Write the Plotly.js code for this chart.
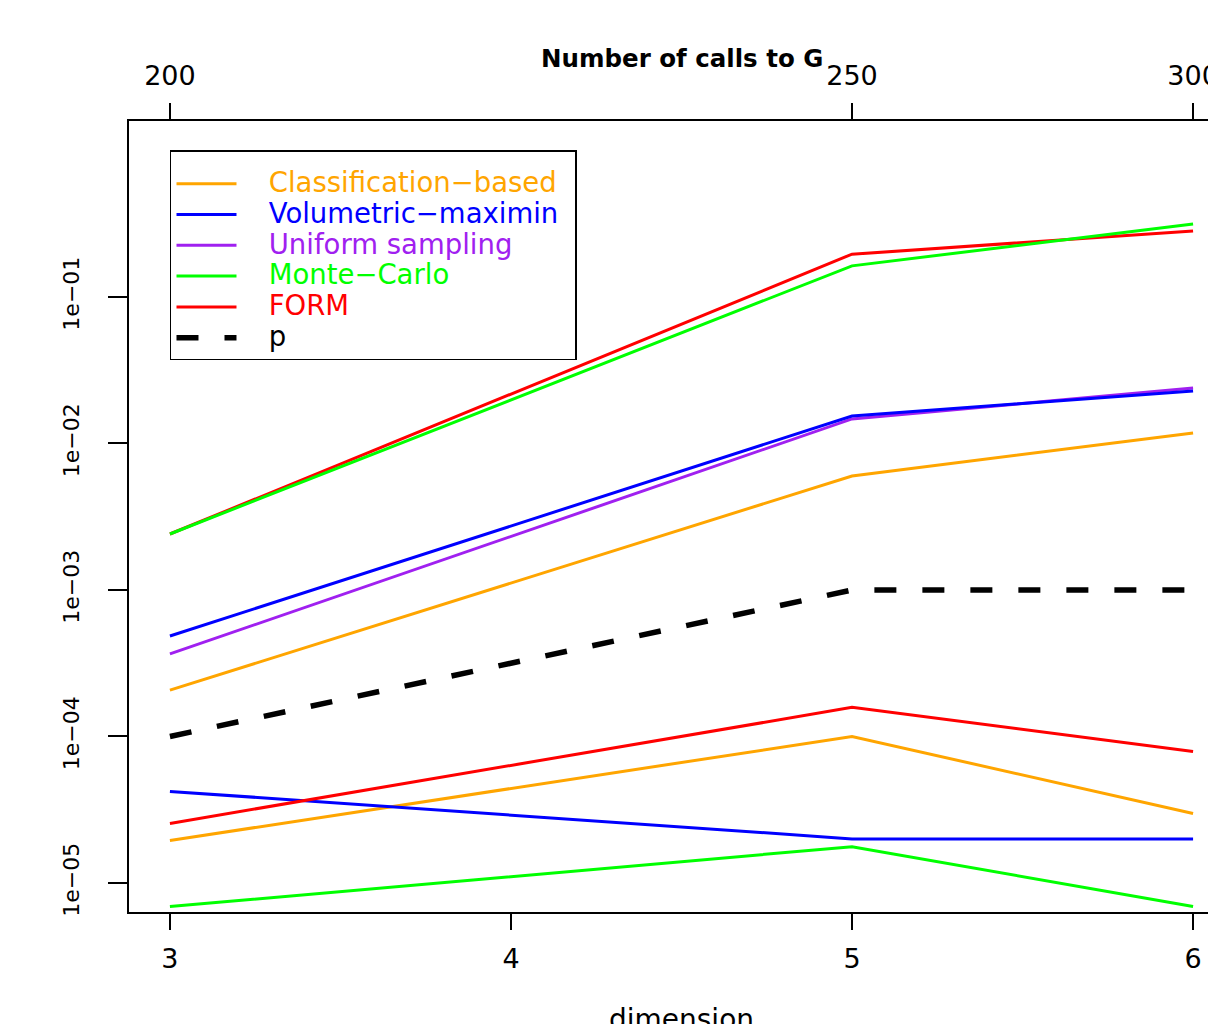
<!DOCTYPE html>
<html><head><meta charset="utf-8">
<script src="https://cdn.plot.ly/plotly-3.0.1.min.js"></script>
<style>html,body{margin:0;padding:0;overflow:hidden;background:#fff}#chart{width:1240px;height:1100px}</style>
</head><body><div id="chart"></div><script>
// ---- data ----
const dimensions = [3, 5, 6];
const callsToG = ['200', '250', '300'];
const dimensionTicks = [3, 4, 5, 6];
const yTickVals = [1e-5, 1e-4, 1e-3, 1e-2, 1e-1];
const yTickText = ['1e\u221205', '1e\u221204', '1e\u221203', '1e\u221202', '1e\u221201'];
const seriesNames = ['Classification\u2212based', 'Volumetric\u2212maximin', 'Uniform sampling', 'Monte\u2212Carlo', 'FORM', 'p'];

const classificationUpper = [2.07e-4, 6.0e-3, 1.18e-2];
const classificationLower = [1.95e-5, 1.0e-4, 2.98e-5];
const volumetricUpper = [4.85e-4, 1.54e-2, 2.28e-2];
const volumetricLower = [4.22e-5, 2.0e-5, 2.0e-5];
const uniformUpper = [3.66e-4, 1.47e-2, 2.39e-2];
const monteCarloUpper = [2.41e-3, 0.163, 0.315];
const monteCarloLower = [6.9e-6, 1.77e-5, 6.9e-6];
const formUpper = [2.41e-3, 0.196, 0.282];
const formLower = [2.55e-5, 1.58e-4, 7.9e-5];
const pValues = [1e-4, 1e-3, 1e-3];

// ---- styles ----
const colors = ['#FFA500', '#0000FF', '#A020F0', '#00FF00', '#FF0000', '#000000'];
const FONT = 'DejaVu Sans';
const NB = '\u00A0\u00A0\u00A0\u00A0';

function legendName(i) {
  return NB + '<span style="color:' + colors[i] + ';font-size:27.5px">' + seriesNames[i] + '</span>' + (i === 0 ? '\u00A0\u00A0' : '');
}
function tr(y, i, showlegend, extra) {
  return Object.assign({
    x: dimensions, y: y, type: 'scatter', mode: 'lines',
    name: legendName(i), legendgroup: 'g' + i, legendrank: i + 1,
    showlegend: showlegend,
    line: { color: colors[i], width: 3 },
    hoverinfo: 'skip'
  }, extra || {});
}

const traces = [
  tr(classificationUpper, 0, true),
  tr(classificationLower, 0, false),
  tr(uniformUpper, 2, true),
  tr(volumetricUpper, 1, true),
  tr(volumetricLower, 1, false),
  tr(formUpper, 4, true),
  tr(formLower, 4, false),
  tr(monteCarloUpper, 3, true),
  tr(monteCarloLower, 3, false),
  tr(pValues, 5, true, { xaxis: 'x2', line: { color: '#000', width: 5.5, dash: '22px,26px' } })
];

const xRange = [2.88, 6.12];
const layout = {
  width: 1240, height: 1100,
  margin: { l: 129, r: 6, t: 121, b: 188 },
  paper_bgcolor: '#fff', plot_bgcolor: '#fff',
  font: { family: FONT, color: '#000' },
  showlegend: true,
  legend: {
    x: 0.0371, y: 0.9633, xanchor: 'left', yanchor: 'top',
    bgcolor: '#fff', bordercolor: '#000', borderwidth: 1.5,
    font: { family: FONT, size: 21.4, color: '#000' },
    title: { text: '\u00A0', font: { family: FONT, size: 9 } },
    itemwidth: 60, traceorder: 'normal'
  },
  xaxis: {
    range: xRange, tickvals: dimensionTicks, ticktext: dimensionTicks.map(String),
    ticks: 'outside', ticklen: 16, tickwidth: 2, tickcolor: '#000',
    showline: true, linecolor: '#000', linewidth: 2, mirror: false,
    showgrid: false, zeroline: false, automargin: false,
    tickfont: { family: FONT, size: 27 }, ticklabelstandoff: 6,
    title: { text: 'dimension', font: { family: FONT, size: 28 }, standoff: 36 }
  },
  xaxis2: {
    overlaying: 'x', side: 'top', anchor: 'y',
    range: xRange, tickvals: dimensions, ticktext: callsToG,
    ticks: 'outside', ticklen: 16, tickwidth: 2, tickcolor: '#000',
    showline: true, linecolor: '#000', linewidth: 2,
    showgrid: false, zeroline: false, automargin: false,
    tickfont: { family: FONT, size: 27 }, ticklabelstandoff: 7
  },
  yaxis: {
    type: 'log', range: [-5.198, 0.201],
    tickvals: yTickVals, ticktext: yTickText, tickangle: -90,
    ticks: 'outside', ticklen: 19, tickwidth: 2, tickcolor: '#000',
    showline: true, linecolor: '#000', linewidth: 2, mirror: true,
    showgrid: false, zeroline: false, automargin: false,
    tickfont: { family: FONT, size: 22 }, ticklabelstandoff: 20
  },
  annotations: [{
    text: '<b>Number of calls to G</b>', xref: 'paper', yref: 'paper',
    x: 0.5, y: 1.0784, xanchor: 'center', yanchor: 'middle', showarrow: false,
    font: { family: FONT, size: 24.5, color: '#000' }
  }]
};

Plotly.newPlot('chart', traces, layout, { staticPlot: true, displayModeBar: false });
</script></body></html>
